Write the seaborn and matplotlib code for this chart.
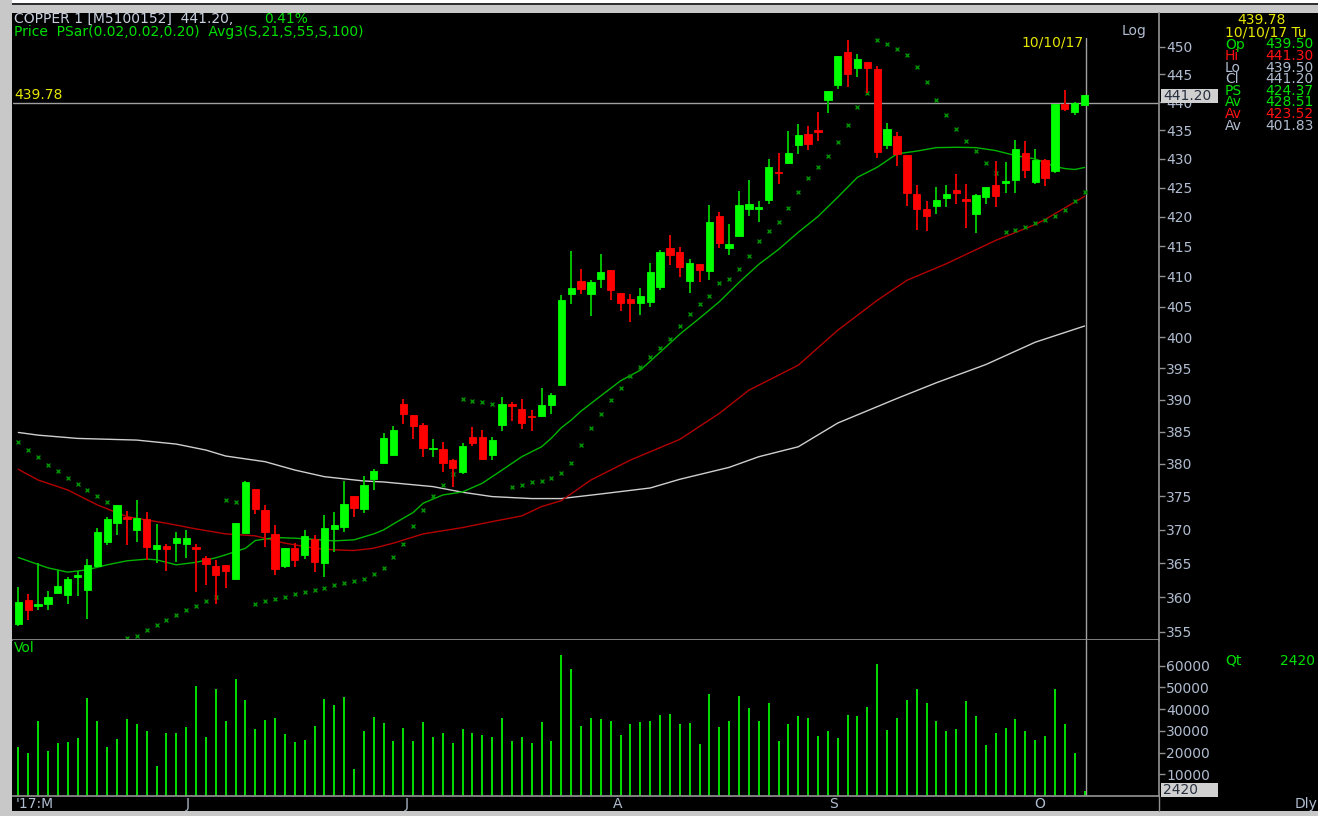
import numpy as np
import pandas as pd
import matplotlib
matplotlib.use("Agg")
import matplotlib.pyplot as plt
import seaborn as sns
from matplotlib.ticker import FixedLocator, NullLocator, NullFormatter, FuncFormatter
from matplotlib.patches import Rectangle
from matplotlib.lines import Line2D

# daily OHLC (log price scale)
opens = [356.10, 359.62, 358.75, 359.04, 360.54, 360.35, 363.02, 361.08, 364.60, 368.12,
         371.04, 371.86, 369.95, 371.56, 367.07, 367.61, 368.01, 367.86, 367.37, 365.74,
         364.60, 364.65, 362.64, 369.55, 376.09, 373.01, 369.40, 364.60, 367.27, 366.23,
         368.65, 365.09, 370.14, 370.40, 375.08, 373.07, 377.71, 380.12, 381.35, 389.30,
         387.53, 385.96, 382.23, 382.23, 380.53, 378.78, 384.09, 384.09, 381.35, 385.96,
         389.26, 388.47, 387.46, 387.46, 389.14, 392.29, 407.03, 409.22, 407.03, 409.50,
         411.00, 407.24, 406.25, 405.55, 405.83, 408.22, 414.79, 414.05, 409.17, 412.11,
         410.83, 420.20, 414.68, 416.69, 421.32, 421.27, 422.86, 427.74, 429.24, 432.45,
         434.38, 435.13, 440.45, 443.09, 449.09, 446.13, 447.28, 445.95, 432.50, 434.08,
         430.63, 423.96, 421.32, 421.95, 423.27, 424.69, 422.98, 420.47, 423.45, 425.55,
         425.78, 426.29, 431.10, 425.95, 429.76, 427.97, 439.68, 438.25, 439.50]
highs = [361.42, 360.45, 365.00, 360.93, 364.01, 363.02, 363.86, 365.64, 370.20, 371.95,
         373.76, 372.81, 374.42, 372.61, 370.80, 367.86, 369.65, 369.95, 367.86, 366.13,
         365.49, 364.65, 371.04, 377.36, 376.09, 373.67, 370.65, 367.27, 367.97, 369.95,
         369.16, 372.16, 372.61, 377.36, 375.08, 378.12, 379.15, 384.71, 385.85, 390.04,
         387.53, 386.27, 383.78, 383.36, 380.68, 383.16, 385.75, 385.18, 384.18, 390.36,
         389.62, 390.04, 388.36, 391.78, 390.99, 406.86, 414.22, 411.17, 409.45, 413.78,
         411.00, 407.24, 407.13, 408.12, 412.28, 414.34, 416.86, 414.89, 412.94, 412.11,
         421.96, 420.76, 418.84, 424.52, 426.36, 422.69, 430.06, 430.98, 434.84, 436.14,
         435.72, 438.31, 442.06, 448.36, 451.22, 448.67, 447.28, 446.55, 436.37, 434.78,
         430.63, 425.55, 422.69, 425.09, 425.55, 427.45, 425.72, 423.84, 425.21, 429.66,
         429.54, 433.32, 433.20, 431.75, 430.00, 439.68, 442.18, 440.08, 441.30]
lows = [355.76, 356.72, 358.07, 358.07, 360.54, 359.04, 360.10, 356.82, 364.50, 367.76,
        369.20, 367.67, 368.16, 365.49, 365.09, 363.86, 365.24, 365.83, 360.74, 361.81,
        358.94, 361.27, 362.64, 369.55, 372.36, 367.37, 363.27, 364.23, 364.41, 365.59,
        363.75, 362.93, 366.72, 369.65, 371.95, 372.46, 375.94, 380.12, 381.35, 386.12,
        383.87, 381.09, 381.09, 378.78, 376.40, 378.38, 382.75, 380.58, 380.58, 385.03,
        386.63, 385.43, 385.07, 387.21, 387.68, 392.29, 405.50, 407.03, 403.46, 408.12,
        406.09, 404.24, 402.48, 403.63, 405.01, 407.68, 411.95, 409.89, 407.24, 409.06,
        409.45, 414.72, 413.50, 416.69, 420.20, 419.11, 422.18, 425.60, 429.14, 430.87,
        431.57, 433.20, 438.08, 442.36, 442.78, 444.56, 441.58, 430.18, 431.68, 428.72,
        421.95, 417.70, 417.58, 420.54, 421.61, 422.18, 418.09, 417.31, 422.18, 421.61,
        424.18, 424.18, 426.64, 425.67, 425.38, 427.57, 438.43, 437.65, 439.50]
closes = [359.23, 358.07, 359.04, 360.01, 361.66, 362.64, 363.27, 364.71, 369.70, 371.65,
          373.76, 371.60, 371.75, 367.37, 367.72, 367.16, 368.80, 368.80, 367.16, 364.86,
          363.27, 363.91, 370.95, 377.25, 373.07, 369.70, 364.06, 367.27, 365.49, 369.06,
          365.24, 370.30, 370.65, 373.86, 373.31, 376.70, 378.84, 383.98, 385.23, 387.78,
          385.85, 382.38, 382.48, 380.12, 379.35, 382.69, 383.26, 380.78, 383.67, 389.36,
          389.04, 386.32, 387.26, 389.14, 390.67, 406.04, 408.12, 407.90, 409.00, 410.78,
          407.80, 405.66, 405.60, 406.81, 410.67, 414.05, 413.55, 411.55, 412.28, 411.12,
          419.06, 415.63, 415.46, 422.01, 422.13, 421.61, 428.67, 427.50, 431.10, 434.14,
          432.62, 434.66, 442.06, 448.36, 444.98, 447.77, 446.06, 431.15, 435.26, 430.88,
          424.18, 421.32, 420.08, 422.86, 423.96, 424.18, 422.76, 423.67, 425.21, 423.55,
          426.12, 431.75, 428.02, 429.88, 426.71, 439.68, 438.85, 439.85, 441.20]
volumes = [22700, 19900, 34700, 20800, 24500, 25000, 26500, 45000, 34700, 22700,
           26100, 35200, 33300, 29900, 13900, 29200, 29200, 31800, 50500, 27300,
           49200, 34700, 53700, 44000, 31000, 34900, 36000, 28700, 25000, 25800,
           32400, 44400, 41700, 45400, 12500, 29900, 36400, 33800, 25500, 31500,
           25500, 34100, 27300, 29000, 24400, 30900, 29000, 28100, 27000, 36000,
           25300, 27200, 24400, 34100, 25300, 64800, 58200, 32400, 36000, 35500,
           34400, 28200, 33200, 34100, 34700, 37300, 37800, 33200, 33600, 24100,
           46900, 31800, 34700, 46100, 40400, 34400, 42700, 25300, 33200, 36600,
           36000, 27500, 29800, 26700, 37300, 36600, 40900, 60500, 30200, 36000,
           44300, 49100, 42700, 34400, 29800, 30900, 43500, 36600, 23300, 29000,
           31300, 35500, 29900, 25900, 27500, 49200, 33200, 19800, 2420]
nan = np.nan
psar = [383.31, 382.12, 380.99, 379.86, 378.89, 377.86, 376.86, 375.99, 375.08, 374.21,
        nan, 354.08, 354.42, 355.20, 355.89, 356.72, 357.44, 358.07, 358.75, 359.37,
        360.01, 374.47, 374.21, nan, 358.94, 359.37, 359.72, 360.06, 360.45, 360.79,
        361.04, 361.37, 361.71, 362.06, 362.35, 362.66, 363.38, 364.26, 365.89, 367.91,
        370.55, 372.92, 375.04, 376.70, 378.38, 390.09, 389.85, 389.57, 389.35, nan,
        376.50, 376.70, 377.16, 377.36, 377.86, 378.53, 380.12, 382.90, 385.50, 387.69,
        389.88, 391.78, 393.79, 395.23, 396.74, 398.22, 399.80, 401.87, 403.72, 405.36,
        406.68, 408.84, 409.50, 411.28, 413.48, 415.85, 417.62, 419.18, 421.56, 424.21,
        426.64, 428.62, 430.53, 432.98, 435.99, 439.09, 441.60, 451.24, 450.49, 449.64,
        448.49, 446.38, 443.55, 440.33, 437.74, 435.26, 433.20, 431.33, 429.31, 427.63,
        417.39, 417.75, 418.31, 419.05, 419.45, 420.12, 421.10, 422.76, 424.30]

# moving averages, read at sample candles (1-based candle number)
ma21_n = [1, 4, 6, 8, 10, 12, 14, 15, 17, 19, 21, 22, 24, 25, 27, 29, 31, 33, 35, 37, 38, 39,
          41, 42, 44, 46, 48, 50, 52, 54, 55, 56, 57, 58, 60, 62, 64, 66, 68, 70, 72, 74, 76,
          78, 80, 82, 84, 86, 88, 90, 92, 94, 96, 98, 100, 102, 104, 106, 107, 108, 109]
ma21_v = [365.83, 364.30, 363.67, 364.01, 364.75, 365.34, 365.59, 365.49, 364.75, 365.12,
          365.79, 366.23, 367.20, 368.36, 368.80, 368.71, 368.53, 368.31, 368.46, 369.35,
          369.95, 370.85, 372.58, 373.97, 375.23, 375.69, 377.02, 379.04, 381.10, 382.63,
          383.98, 385.60, 386.79, 388.20, 390.61, 393.00, 394.70, 397.58, 400.50, 403.10,
          405.80, 409.00, 412.00, 414.50, 417.39, 420.08, 423.37, 426.81, 428.55, 430.88,
          431.36, 431.97, 432.03, 431.97, 431.45, 430.58, 430.00, 428.67, 428.32, 428.15, 428.51]
ma55_n = [1, 3, 6, 9, 12, 16, 19, 22, 25, 28, 31, 33, 35, 37, 39, 42, 46, 49, 52, 54, 56,
          59, 63, 68, 72, 75, 80, 84, 88, 91, 95, 100, 104, 105, 109]
ma55_v = [379.15, 377.51, 375.99, 373.72, 371.95, 370.95, 370.10, 369.35, 369.06, 367.97,
          367.22, 366.97, 366.87, 367.22, 367.97, 369.35, 370.30, 371.20, 372.06, 373.47,
          374.36, 377.51, 380.58, 383.78, 387.84, 391.51, 395.50, 401.14, 406.04, 409.34,
          412.11, 416.02, 418.70, 419.57, 423.52]
ma100_n = [1, 3, 7, 13, 17, 20, 22, 26, 29, 32, 36, 38, 43, 46, 49, 53, 56, 60, 65, 68,
           73, 76, 80, 84, 90, 94, 99, 104, 109]
ma100_v = [384.86, 384.44, 383.93, 383.67, 383.05, 382.12, 381.20, 380.32, 379.04, 378.02,
           377.36, 377.21, 376.50, 375.64, 374.98, 374.68, 374.68, 375.38, 376.29, 377.62,
           379.45, 381.09, 382.63, 386.33, 390.20, 392.70, 395.60, 399.20, 401.83]

price_ticks = list(range(355, 451, 5))
vol_ticks = [10000, 20000, 30000, 40000, 50000, 60000]
month_pos = [-0.3, 17.0, 39.1, 60.2, 82.1, 102.9]
month_labels = ["'17:M", "J", "J", "A", "S", "O"]

W, H = 1318, 816
BLUEGRAY = '#b0bccf'
GREEN = '#00e000'
YELLOW = '#e6e600'
RED = '#ff1010'
fs = 10


def fx(x):
    return x / W


def fy(y):
    return 1 - y / H


sns.set_theme(style="dark", rc={"axes.facecolor": "black", "figure.facecolor": "black",
                                "axes.grid": False})
plt.rcParams['font.family'] = ['DejaVu Sans']

df = pd.DataFrame({"open": opens, "high": highs, "low": lows, "close": closes,
                   "vol": volumes, "psar": psar})
df["x"] = np.arange(len(df))

fig = plt.figure(figsize=(W / 100, H / 100), dpi=100)
ax = fig.add_axes([fx(13), fy(640), fx(1159) - fx(13), fy(13) - fy(640)])
axv = fig.add_axes([fx(13), fy(796), fx(1159) - fx(13), fy(640) - fy(796)], sharex=ax)

# candles
up = df.close >= df.open
for mask, body, wick in [(up, '#00ff00', '#00c000'), (~up, '#ff0000', '#e00000')]:
    d = df[mask]
    ax.vlines(d.x, d.low, d.high, color=wick, lw=1.4, zorder=3)
    lo = np.minimum(d.open, d.close)
    hi = np.maximum(d.open, d.close)
    ax.bar(d.x, hi - lo, bottom=lo, width=0.74, color=body, edgecolor=body,
           linewidth=0.6, zorder=4)

# moving averages
for n, v, c in [(ma100_n, ma100_v, '#cfcfcf'), (ma55_n, ma55_v, '#b40000'),
                (ma21_n, ma21_v, '#00b400')]:
    sns.lineplot(x=np.array(n) - 1, y=v, ax=ax, color=c, lw=1.0, zorder=2)

# parabolic SAR
sns.scatterplot(data=df, x="x", y="psar", ax=ax, marker="x", s=8, color='#009000',
                linewidth=1.0, zorder=2)

ax.set_yscale('log')
ax.set_ylim(353.8, 456.2)
ax.set_xlim(-0.54, 115.54)
ax.yaxis.set_major_locator(FixedLocator(price_ticks))
ax.yaxis.set_major_formatter(FuncFormatter(lambda v, p: f"{v:.0f}"))
ax.yaxis.set_minor_locator(NullLocator())
ax.yaxis.set_minor_formatter(NullFormatter())
ax.yaxis.tick_right()
ax.tick_params(axis='y', colors='#909090', labelcolor=BLUEGRAY, labelsize=fs,
               length=4, width=1, direction='out', pad=1, right=True, left=False)
ax.tick_params(axis='x', bottom=False, labelbottom=False)
ax.set_xlabel("")
ax.set_ylabel("")
for s in ['top', 'left']:
    ax.spines[s].set_visible(False)
ax.spines['right'].set_color('#909090')
ax.spines['bottom'].set_color('#909090')

# cursor lines
ax.axhline(439.78, color='#a0a0a0', lw=1, zorder=1)
ax.axvline(108.1, ymax=(640 - 38) / (640 - 13), color='#a0a0a0', lw=1, zorder=1)
axv.axvline(108.1, color='#a0a0a0', lw=1, zorder=1)

# volume
axv.vlines(df.x, 0, df.vol, color=GREEN, lw=1.4)
axv.set_ylim(0, 71760)
axv.yaxis.set_major_locator(FixedLocator(vol_ticks))
axv.yaxis.set_major_formatter(FuncFormatter(lambda v, p: f"{v:.0f}"))
axv.yaxis.tick_right()
axv.tick_params(axis='y', colors='#909090', labelcolor=BLUEGRAY, labelsize=fs,
                length=4, width=1, direction='out', pad=1, right=True, left=False)
axv.set_xticks(month_pos, month_labels)
for t in axv.get_xticklabels():
    t.set_ha('left')
axv.tick_params(axis='x', colors=BLUEGRAY, labelsize=fs, length=0, pad=1, bottom=True)
axv.set_xlabel("")
axv.set_ylabel("")
for s in ['top', 'left']:
    axv.spines[s].set_visible(False)
axv.spines['right'].set_color('#909090')
axv.spines['bottom'].set_color('#909090')

# window frame
frame = [((0, fy(13)), 1, 13 / H, '#c8c8c8'),
         ((0, fy(5)), 1, 2 / H, '#303030'),
         ((0, fy(3)), 1, 3 / H, 'white'),
         ((0, 0), fx(12), 1, '#c8c8c8'),
         ((0, 0), 1, 5 / H, '#c8c8c8')]
for xy, w, h, c in frame:
    fig.patches.append(Rectangle(xy, w, h, transform=fig.transFigure, facecolor=c,
                                 edgecolor='none', zorder=-1))
fig.lines.append(Line2D([fx(1159), fx(1159)], [fy(796), fy(811)], transform=fig.transFigure,
                        color='#909090', lw=1))

# value boxes on the axis
for yb, label in [(96, "441.20"), (790, "2420")]:
    fig.patches.append(Rectangle((fx(1161), fy(yb + 7)), fx(1218) - fx(1161), 14 / H,
                                 transform=fig.transFigure, facecolor='#d0d0d0',
                                 edgecolor='none', zorder=5))
    fig.text(fx(1163), fy(yb), label, color='#283040', fontsize=fs, va='center', ha='left',
             zorder=6)

fig.text(fx(14), fy(19), "COPPER 1 [M5100152]  441.20,", color='#c8d0e0', fontsize=fs, va='center')
fig.text(fx(264), fy(19), "0.41%", color=GREEN, fontsize=fs, va='center')
fig.text(fx(14), fy(32), "Price  PSar(0.02,0.02,0.20)  Avg3(S,21,S,55,S,100)", color=GREEN,
         fontsize=fs, va='center')
fig.text(fx(14), fy(95), "439.78", color=YELLOW, fontsize=fs, va='center')
fig.text(fx(1122), fy(31), "Log", color=BLUEGRAY, fontsize=fs, va='center')
fig.text(fx(1021), fy(43), "10/10/17", color=YELLOW, fontsize=fs, va='center')
fig.text(fx(14), fy(648), "Vol", color=GREEN, fontsize=fs, va='center')
fig.text(fx(1295), fy(804), "Dly", color=BLUEGRAY, fontsize=fs, va='center')

# info panel
fig.text(fx(1237), fy(20), "439.78", color=YELLOW, fontsize=fs, va='center')
fig.text(fx(1225), fy(33), "10/10/17 Tu", color=YELLOW, fontsize=fs, va='center')
info = [("Op", "439.50", GREEN), ("Hi", "441.30", RED), ("Lo", "439.50", BLUEGRAY),
        ("Cl", "441.20", BLUEGRAY), ("PS", "424.37", GREEN), ("Av", "428.51", GREEN),
        ("Av", "423.52", RED), ("Av", "401.83", BLUEGRAY)]
for k, (lab, val, c) in enumerate(info):
    yy = 44.5 + k * 11.6
    fig.text(fx(1225), fy(yy), lab, color=c, fontsize=fs, va='center')
    fig.text(fx(1265), fy(yy), val, color=c, fontsize=fs, va='center')
fig.text(fx(1225), fy(661), "Qt", color=GREEN, fontsize=fs, va='center')
fig.text(fx(1280), fy(661), "2420", color=GREEN, fontsize=fs, va='center')

fig.savefig("out.png", dpi=100, facecolor='black')
